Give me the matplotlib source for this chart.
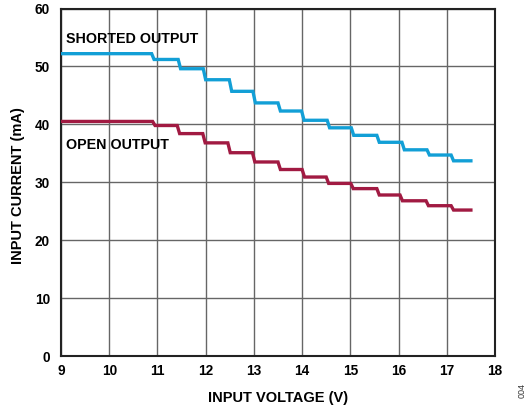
import matplotlib
matplotlib.use("Agg")
import matplotlib.pyplot as plt
import numpy as np

plt.rcParams['font.family'] = ['Liberation Sans', 'DejaVu Sans']

# Step edges (V) and current levels (mA)
shorted_edges = [9.0, 10.88, 11.43, 11.95, 12.49, 12.98, 13.50, 13.99, 14.52, 15.02, 15.55, 16.07, 16.59, 17.09, 17.5]
shorted_levels = [52.2, 51.2, 49.6, 47.7, 45.7, 43.7, 42.3, 40.7, 39.4, 38.1, 36.9, 35.6, 34.7, 33.7]

open_edges = [9.0, 10.9, 11.41, 11.94, 12.46, 12.97, 13.50, 14.00, 14.50, 15.01, 15.55, 16.03, 16.57, 17.09, 17.5]
open_levels = [40.5, 39.8, 38.4, 36.8, 35.1, 33.5, 32.2, 30.9, 29.8, 28.9, 27.8, 26.8, 25.95, 25.2]

x_ticks = [9, 10, 11, 12, 13, 14, 15, 16, 17, 18]
y_ticks = [0, 10, 20, 30, 40, 50, 60]

BLUE = "#129fd6"
RED = "#a11a42"
RAMP = 0.05


def step_path(edges, levels):
    xs, ys = [], []
    for i, lv in enumerate(levels):
        start = edges[i] + (RAMP if i > 0 else 0.0)
        xs += [start, edges[i + 1]]
        ys += [lv, lv]
    return xs, ys


fig = plt.figure(figsize=(5.27, 4.09), dpi=100)
ax = fig.add_axes([61 / 527, 1 - 356 / 409, (495 - 61) / 527, (356 - 8.5) / 409])

ax.set_xlim(9, 18)
ax.set_ylim(0, 60)
ax.set_xticks(x_ticks)
ax.set_yticks(y_ticks)
ax.grid(True, color="#666666", linewidth=1.0)
ax.set_axisbelow(True)

for sp in ax.spines.values():
    sp.set_color("#222222")
    sp.set_linewidth(1.5)

ax.tick_params(axis="x", length=0, pad=6, labelsize=9.8)
ax.tick_params(axis="y", length=0, pad=8, labelsize=9.8)
for lbl in ax.get_xticklabels() + ax.get_yticklabels():
    lbl.set_fontweight("bold")

xs, ys = step_path(shorted_edges, shorted_levels)
ax.plot(xs, ys, color=BLUE, linewidth=2.4, solid_joinstyle="miter", zorder=3)
xs, ys = step_path(open_edges, open_levels)
ax.plot(xs, ys, color=RED, linewidth=2.4, solid_joinstyle="miter", zorder=3)

ax.text(9.1, 54.0, "SHORTED OUTPUT", fontsize=10.3, fontweight="bold", ha="left", va="baseline")
ax.text(9.1, 35.8, "OPEN OUTPUT", fontsize=10.3, fontweight="bold", ha="left", va="baseline")

ax.set_xlabel("INPUT VOLTAGE (V)", fontsize=10.5, fontweight="bold", va="center")
ax.set_ylabel("INPUT CURRENT (mA)", fontsize=10.5, fontweight="bold", va="center")
ax.xaxis.set_label_coords(0.5, (356 - 398) / 347.5)
ax.yaxis.set_label_coords((18 - 61) / 434, (356 - 186) / 347.5)

fig.text(522 / 527, 1 - 391 / 409, "004", rotation=90, fontsize=6.5, ha="center", va="center", color="#333333")

fig.savefig("out.png", dpi=100)
